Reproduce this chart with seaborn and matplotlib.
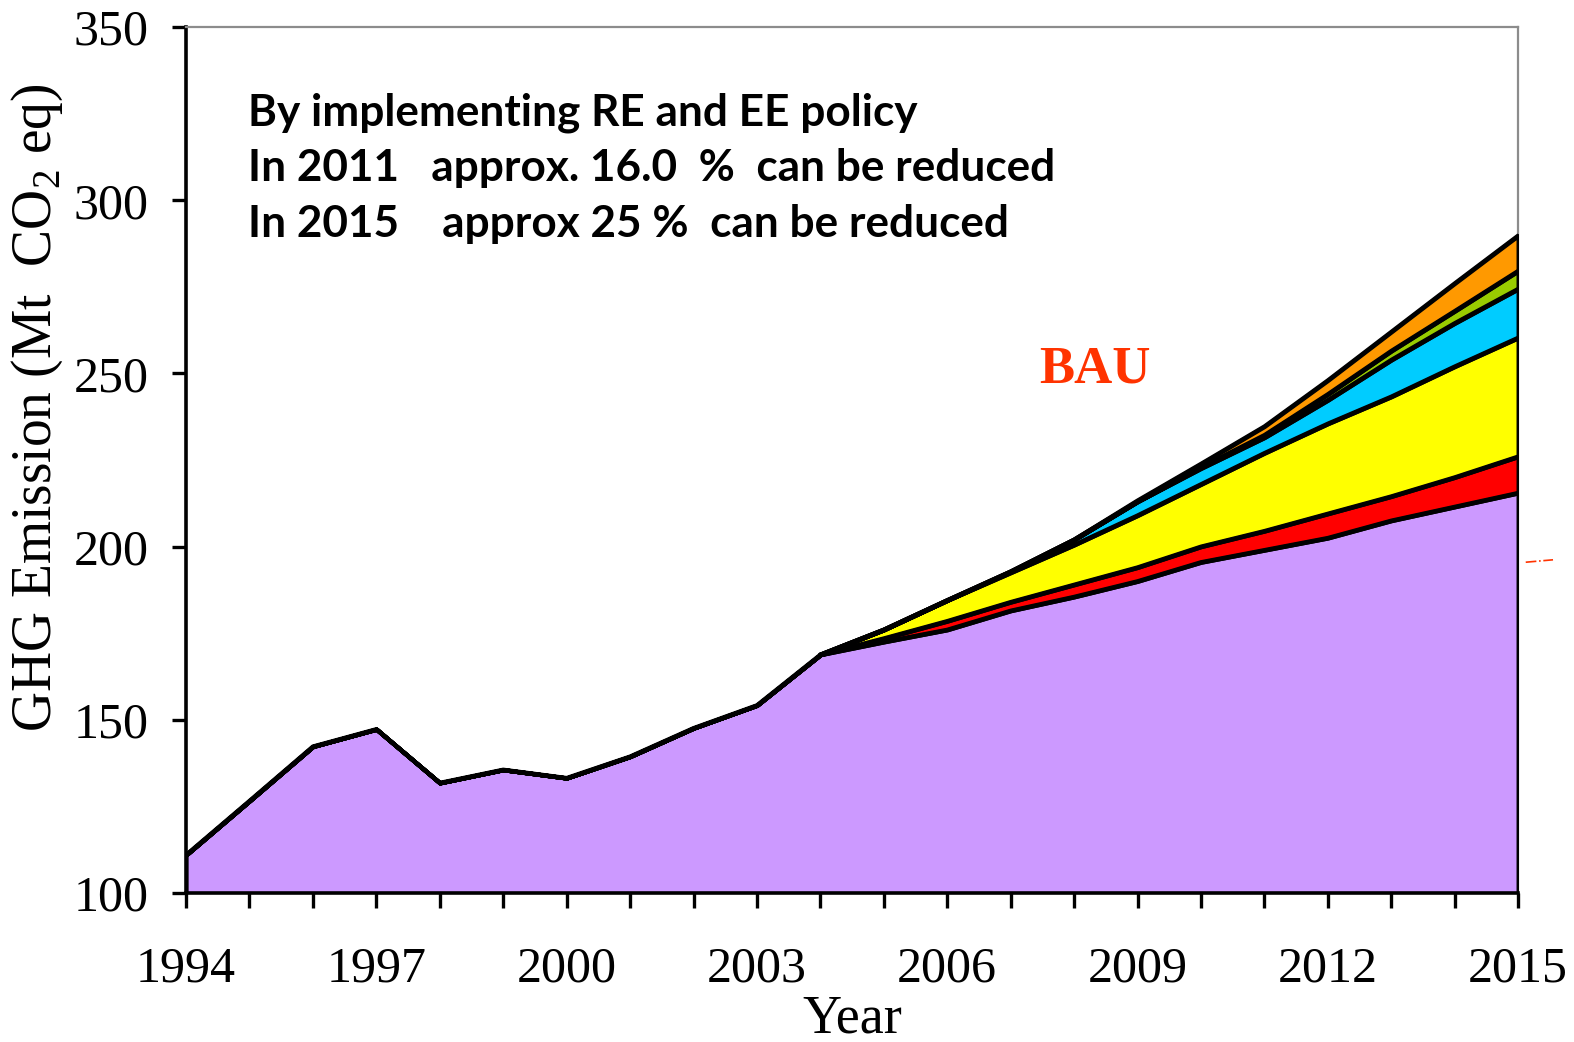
"""
Stacked area chart of GHG emission under BAU and the reductions from RE and EE policy.
"""

# === Imports ===

import numpy as np
import pandas as pd
import seaborn as sns
from matplotlib import pyplot as plt
from matplotlib.ticker import FixedLocator, MultipleLocator


# === Data ===

years = list(range(1994, 2016))
policy_years = list(range(2004, 2016))
labelled_years = list(range(1994, 2016, 3))

# emission left after policy (purple area), Mt CO2 eq
remaining = [111.0, 126.6, 142.3, 147.3, 131.8, 135.6, 133.2, 139.4, 147.6, 154.2,
             168.8, 172.5, 176.0, 181.5, 185.5, 190.0, 195.5, 199.0, 202.5, 207.5,
             211.5, 215.5]

# reductions stacked on top, 2004 - 2015
red_layer = [0, 1.0, 2.5, 2.5, 3.5, 4.0, 4.5, 5.5, 7.0, 7.0, 8.5, 10.5]
yellow_layer = [0, 2.5, 6.0, 8.5, 11.5, 15.0, 18.0, 22.5, 26.0, 28.8, 32.0, 34.3]
blue_layer = [0, 0, 0, 0.3, 1.5, 4.0, 4.6, 4.5, 6.8, 10.6, 12.5, 14.1]
green_layer = [0, 0, 0, 0, 0, 0, 0.3, 0.7, 1.7, 2.6, 3.5, 5.2]
orange_layer = [0, 0, 0, 0, 0, 0.3, 1.0, 2.5, 4.0, 5.5, 8.0, 10.2]

layer_colors = ["#CC99FF", "#FF0000", "#FFFF00", "#00CCFF", "#99CC00", "#FF9900"]

note_lines = [
    "By implementing RE and EE policy",
    "In 2011   approx. 16.0  %  can be reduced",
    "In 2015    approx 25 %  can be reduced",
]


# === Functions ===

def build_layers():
    """
    Pad the policy layers with zeros for the years before 2004.
    Returns: list of arrays, bottom to top.
    """
    pad = len(years) - len(policy_years)
    layers = [np.array(remaining)]
    for layer in [red_layer, yellow_layer, blue_layer, green_layer, orange_layer]:
        layers.append(np.concatenate([np.zeros(pad), np.array(layer)]))
    return layers


def make_plot(layers):
    sns.set_style("ticks")
    plt.rcParams["font.family"] = ["Liberation Serif", "DejaVu Serif"]
    plt.rcParams["mathtext.fontset"] = "custom"
    plt.rcParams["mathtext.rm"] = "Liberation Serif"
    for key in ["text.color", "axes.labelcolor", "xtick.color", "ytick.color"]:
        plt.rcParams[key] = "black"

    fig = plt.figure(figsize=(15.74, 10.42), dpi=100)
    ax = fig.add_axes([0.1182, 0.143, 0.8463, 0.831])

    ax.stackplot(years, *layers, colors=layer_colors,
                 edgecolor="black", linewidth=3.0)

    # boundary lines on top of the fills
    tops = np.cumsum(np.vstack(layers), axis=0)
    start = years.index(policy_years[0])
    lines = []
    for i, top in enumerate(tops):
        first = 0 if i == 0 else start
        lines.append(pd.DataFrame({"year": years[first:], "value": top[first:], "layer": i}))
    lines = pd.concat(lines)
    sns.lineplot(data=lines, x="year", y="value", units="layer", estimator=None,
                 color="black", linewidth=3.0, legend=False, ax=ax)

    ax.set_xlim(1994, 2015)
    ax.set_ylim(100, 350)
    ax.xaxis.set_major_locator(FixedLocator(labelled_years))
    ax.xaxis.set_minor_locator(MultipleLocator(1))
    ax.yaxis.set_major_locator(MultipleLocator(50))
    ax.tick_params(axis="both", which="both", direction="out", length=11, width=2.4,
                   color="black", labelsize=36, pad=17)
    ax.tick_params(axis="x", which="major", pad=27)
    ax.tick_params(axis="y", length=10)

    for side in ["left", "bottom"]:
        ax.spines[side].set_linewidth(2.6)
        ax.spines[side].set_color("black")
    for side in ["top", "right"]:
        ax.spines[side].set_visible(True)
        ax.spines[side].set_linewidth(1.6)
        ax.spines[side].set_color("#8c8c8c")
    ax.spines["right"].set_zorder(0)

    ax.set_xlabel("Year", fontsize=39)
    ax.xaxis.set_label_coords(0.5, -0.117)
    ax.set_ylabel("")
    fig.text(0.024, 0.609, r"GHG Emission (Mt  CO$_{\mathrm{2}}$ eq)",
             rotation=90, ha="center", va="center", fontsize=40)

    # policy note
    for line, yval in zip(note_lines, [321.7, 305.6, 289.3]):
        ax.text(1994.98, yval, line, fontsize=31.8, fontweight="bold",
                family=["Lato", "DejaVu Sans"], va="baseline", ha="left")

    ax.text(2007.45, 247.3, "BAU", color="#FF3300", fontsize=38,
            fontweight="bold", va="baseline", ha="left")

    # stray red mark beside the chart
    ax.plot([2015.12, 2015.55], [195.5, 196.2], color="#FF3300", linewidth=1.2,
            linestyle="-.", clip_on=False)

    plt.savefig("out.png", dpi=100)


# === Main ===

def main():
    layers = build_layers()
    make_plot(layers)

main()
